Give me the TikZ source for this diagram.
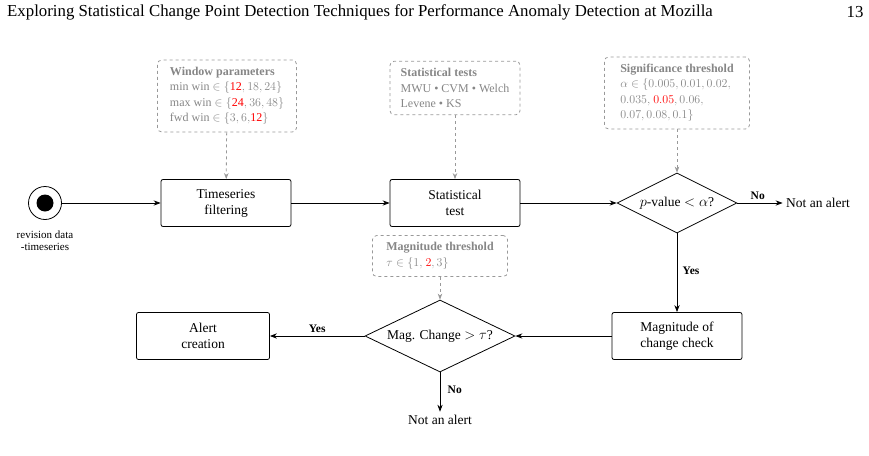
\documentclass[tikz,border=0pt]{standalone}
\usepackage{fontspec}
\setmainfont{Liberation Serif}
\usetikzlibrary{shapes.geometric,arrows.meta}
\begin{document}
\begin{tikzpicture}[x=1pt,y=-1pt,
  proc/.style={draw,thick,rounded corners=2pt,minimum width=130pt,minimum height=47pt,align=center,font=\fontsize{13.5}{16}\selectfont},
  dec/.style={draw,thick,diamond,aspect=2,inner sep=0pt,align=center,font=\fontsize{13.5}{16}\selectfont},
  param/.style={draw=gray!80,dashed,thick,rounded corners=4pt,align=left,text=gray!95,font=\fontsize{12}{15.5}\selectfont,inner sep=7pt},
  flow/.style={-{Stealth[length=7pt]},thick},
  pflow/.style={-{Stealth[length=6pt]},dashed,draw=gray!80,thick},
  lab/.style={font=\bfseries\fontsize{11.5}{13}\selectfont}]
\useasboundingbox (0,0) rectangle (869,455);
\node[anchor=west,font=\fontsize{16.8}{19}\selectfont,inner sep=0pt] (hd) at (7,12) {Exploring Statistical Change Point Detection Techniques for Performance Anomaly Detection at Mozilla};
\node[font=\fontsize{16.8}{19}\selectfont] (pg) at (855,12) {13};
\node[circle,draw,thick,minimum size=33pt] (st) at (45,203) {};
\node[circle,fill=black,minimum size=17pt] at (st) {};
\node[align=center,font=\fontsize{11}{12}\selectfont] (stl) at (45,241) {revision data\\-timeseries};
\node[proc] (tf) at (226,203) {Timeseries\\filtering};
\node[proc] (stt) at (455,203) {Statistical\\test};
\node[dec,minimum width=120pt,minimum height=60pt] (d1) at (677,203) {$p$-value $<\alpha$?};
\node[font=\fontsize{13.5}{16}\selectfont] (na1) at (818,203) {Not an alert};
\node[proc] (mc) at (677,336) {Magnitude of\\change check};
\node[dec,minimum width=150pt,minimum height=72pt] (d2) at (440,336) {Mag. Change $>\tau$?};
\node[proc,minimum width=133pt] (al) at (203,336) {Alert\\creation};
\node[font=\fontsize{13.5}{16}\selectfont] (na2) at (440,420) {Not an alert};
\node[param,minimum width=139pt] (wp) at (227,96) {\textbf{Window parameters}\\min win $\in\{$\textcolor{red}{12}$, 18, 24\}$\\max win $\in\{$\textcolor{red}{24}$, 36, 48\}$\\fwd win $\in\{3, 6, $\textcolor{red}{12}$\}$};
\node[param,minimum width=130pt] (sp) at (455,88) {\textbf{Statistical tests}\\MWU \textbullet{} CVM \textbullet{} Welch\\Levene \textbullet{} KS};
\node[param,minimum width=145pt] (sig) at (677,93) {\textbf{Significance threshold}\\$\alpha\in\{0.005, 0.01, 0.02,$\\$0.035,$ \textcolor{red}{$0.05$}$, 0.06,$\\$0.07, 0.08, 0.1\}$};
\node[param,minimum width=135pt] (mt) at (440,256) {\textbf{Magnitude threshold}\\$\tau\in\{1,$ \textcolor{red}{$2$}$, 3\}$};
\draw[flow] (st) -- (tf);
\draw[flow] (tf) -- (stt);
\draw[flow] (stt) -- (d1);
\draw[flow] (d1) -- node[lab,above,pos=0.45] {No} (na1);
\draw[flow] (d1) -- node[lab,right,pos=0.48,xshift=2pt] {Yes} (mc);
\draw[flow] (mc) -- (d2);
\draw[flow] (d2) -- node[lab,above,pos=0.5] {Yes} (al);
\draw[flow] (d2) -- node[lab,right,pos=0.45,xshift=4pt] {No} (na2);
\draw[pflow] (wp) -- (tf);
\draw[pflow] (sp) -- (stt);
\draw[pflow] (sig) -- (d1);
\draw[pflow] (mt) -- (d2);
\end{tikzpicture}
\end{document}
